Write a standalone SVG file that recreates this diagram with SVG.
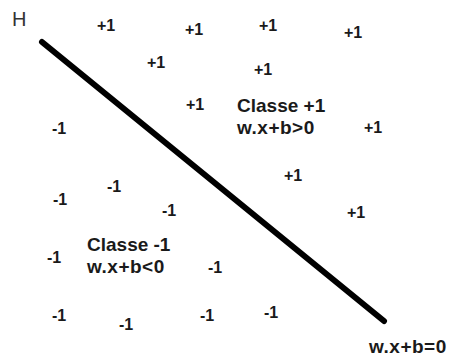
<svg xmlns="http://www.w3.org/2000/svg" width="449" height="358" viewBox="0 0 449 358">
<style>
text{font-family:"Liberation Sans",Arial,sans-serif;fill:#1a1a1a}
.p{font-size:16px;font-weight:bold}
.c{font-size:19px;font-weight:bold}
.e{font-size:19px;font-weight:bold;letter-spacing:0.5px}
.h{font-size:20px;fill:#333}
</style>
<rect width="449" height="358" fill="#fff"/>
<g id="hyperplane">
<line x1="42" y1="42" x2="384" y2="321" stroke="#000" stroke-width="6" stroke-linecap="round"/>
</g>
<text id="H" class="h" x="12" y="26">H</text>
<g id="positive">
<text class="p" x="97" y="31">+1</text>
<text class="p" x="185" y="35">+1</text>
<text class="p" x="259" y="31">+1</text>
<text class="p" x="344" y="38">+1</text>
<text class="p" x="147" y="68">+1</text>
<text class="p" x="254" y="75">+1</text>
<text class="p" x="186" y="110">+1</text>
<text class="p" x="364" y="133">+1</text>
<text class="p" x="284" y="181">+1</text>
<text class="p" x="347" y="218">+1</text>
<text class="c" x="237" y="112">Classe +1</text>
<text class="e" x="237" y="134">w.x+b&gt;0</text>
</g>
<g id="negative">
<text class="p" x="52" y="134">-1</text>
<text class="p" x="53" y="205">-1</text>
<text class="p" x="107" y="192">-1</text>
<text class="p" x="162" y="216">-1</text>
<text class="p" x="47" y="263">-1</text>
<text class="p" x="208" y="273">-1</text>
<text class="p" x="52" y="321">-1</text>
<text class="p" x="119" y="330">-1</text>
<text class="p" x="200" y="321">-1</text>
<text class="p" x="264" y="318">-1</text>
<text class="c" x="87" y="251">Classe -1</text>
<text class="e" x="87" y="273">w.x+b&lt;0</text>
</g>
<text id="equation" class="e" x="369" y="353">w.x+b=0</text>
</svg>
